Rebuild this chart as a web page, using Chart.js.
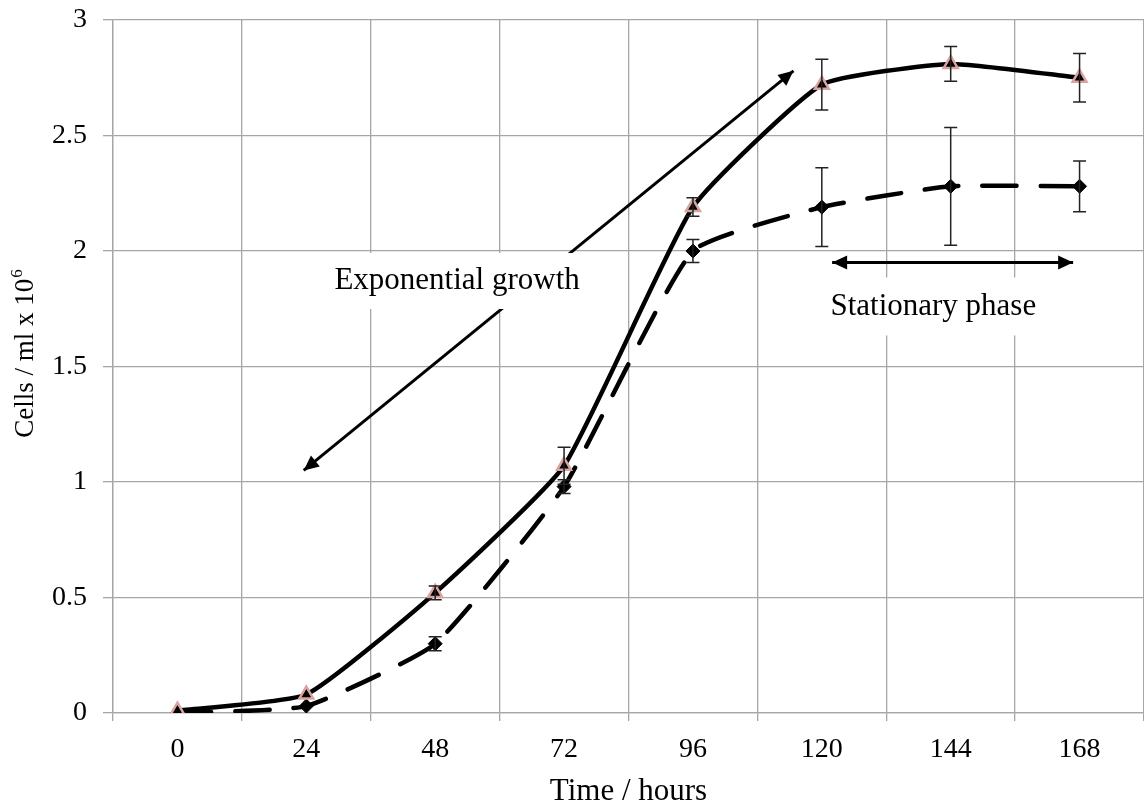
<!DOCTYPE html>
<html>
<head>
<meta charset="utf-8">
<script src="https://cdn.jsdelivr.net/npm/chart.js@4"></script>
<style>
  html, body { margin: 0; padding: 0; background: #fff; overflow: hidden; }
  canvas { display: block; }
</style>
</head>
<body>
<canvas id="growth-chart" width="1144" height="807"></canvas>
<script>

// sampling times (hours)
var hours = ["0", "24", "48", "72", "96", "120", "144", "168"]

// culture A - solid line, triangles
var cellsA = [0.01, 0.08, 0.52, 1.07, 2.19, 2.72, 2.81, 2.75]
var errA   = [0.00, 0.00, 0.03, 0.08, 0.04, 0.11, 0.075, 0.105]

// culture B - dashed line, diamonds
var cellsB = [0.00, 0.03, 0.30, 0.98, 2.00, 2.19, 2.28, 2.28]
var errB   = [0.00, 0.00, 0.03, 0.03, 0.05, 0.17, 0.255, 0.11]

var yTicks = [0, 0.5, 1, 1.5, 2, 2.5, 3]

// arrow ends given as [category index, cells value]
var growthArrow = [[0.98, 1.05], [4.78, 2.78]]
var stationaryArrow = [[5.08, 1.95], [6.95, 1.95]]

var serif = "'Liberation Serif', 'Times New Roman', serif"
var gridGrey = '#a6a6a6'

// vertical error bars with caps
var errorBars = {
  id: 'errorBars',
  afterDatasetsDraw: function(chart) {
    var ctx = chart.ctx
    var x = chart.scales.x, y = chart.scales.y
    chart.data.datasets.forEach(function(ds) {
      if (!ds.errors) return
      ctx.save()
      ctx.strokeStyle = '#222'
      ctx.lineWidth = 1.5
      ds.data.forEach(function(v, i) {
        var e = ds.errors[i]
        if (!e) return
        var px = x.getPixelForValue(i)
        var top = y.getPixelForValue(v + e)
        var bot = y.getPixelForValue(v - e)
        ctx.beginPath()
        ctx.moveTo(px, top); ctx.lineTo(px, bot)
        ctx.moveTo(px - 6.5, top); ctx.lineTo(px + 6.5, top)
        ctx.moveTo(px - 6.5, bot); ctx.lineTo(px + 6.5, bot)
        ctx.stroke()
      })
      ctx.restore()
    })
  }
}

function arrowHead(ctx, fx, fy, tx, ty) {
  var a = Math.atan2(ty - fy, tx - fx)
  var len = 15, half = 7
  ctx.beginPath()
  ctx.moveTo(tx, ty)
  ctx.lineTo(tx - len * Math.cos(a) + half * Math.sin(a), ty - len * Math.sin(a) - half * Math.cos(a))
  ctx.lineTo(tx - len * Math.cos(a) - half * Math.sin(a), ty - len * Math.sin(a) + half * Math.cos(a))
  ctx.closePath()
  ctx.fill()
}

function doubleArrow(chart, ends) {
  var ctx = chart.ctx
  var x = chart.scales.x, y = chart.scales.y
  var x1 = x.getPixelForValue(ends[0][0]), y1 = y.getPixelForValue(ends[0][1])
  var x2 = x.getPixelForValue(ends[1][0]), y2 = y.getPixelForValue(ends[1][1])
  ctx.save()
  ctx.strokeStyle = '#000'
  ctx.fillStyle = '#000'
  ctx.lineWidth = 3
  ctx.beginPath()
  ctx.moveTo(x1, y1); ctx.lineTo(x2, y2)
  ctx.stroke()
  arrowHead(ctx, x2, y2, x1, y1)
  arrowHead(ctx, x1, y1, x2, y2)
  ctx.restore()
}

function labelBox(chart, text, cx, cy, w, h, size) {
  var ctx = chart.ctx
  var px = chart.scales.x.getPixelForValue(cx)
  var py = chart.scales.y.getPixelForValue(cy)
  ctx.save()
  ctx.fillStyle = '#fff'
  ctx.fillRect(px - w / 2, py - h / 2, w, h)
  ctx.fillStyle = '#000'
  ctx.font = size + 'px ' + serif
  ctx.textAlign = 'center'
  ctx.textBaseline = 'middle'
  ctx.fillText(text, px, py)
  ctx.restore()
}

var annotations = {
  id: 'annotations',
  beforeDatasetsDraw: function(chart) {
    doubleArrow(chart, growthArrow)
    doubleArrow(chart, stationaryArrow)
    labelBox(chart, 'Exponential growth', 2.17, 1.87, 306, 56, 31)
    labelBox(chart, 'Stationary phase', 5.865, 1.76, 262, 58, 31)
  }
}

// rotated y title with a raised exponent
var yTitle = {
  id: 'yTitle',
  afterDraw: function(chart) {
    var ctx = chart.ctx
    var main = 'Cells / ml x 10', sup = '6'
    ctx.save()
    ctx.translate(24, 354)
    ctx.rotate(-Math.PI / 2)
    ctx.fillStyle = '#000'
    ctx.textBaseline = 'middle'
    ctx.font = '27px ' + serif
    var w1 = ctx.measureText(main).width
    ctx.font = '17px ' + serif
    var w2 = ctx.measureText(sup).width
    var start = -(w1 + w2) / 2
    ctx.font = '27px ' + serif
    ctx.textAlign = 'left'
    ctx.fillText(main, start, 2)
    ctx.font = '17px ' + serif
    ctx.fillText(sup, start + w1 + 1, -6)
    ctx.restore()
  }
}

new Chart(document.getElementById('growth-chart'), {
  type: 'line',
  data: {
    labels: hours,
    datasets: [{
        label: 'A',
        data: cellsA,
        errors: errA,
        borderColor: '#000',
        borderWidth: 4.5,
        tension: 0.15,
        pointStyle: 'triangle',
        pointRadius: 8,
        pointBackgroundColor: '#000',
        pointBorderColor: '#d9a3a0',
        pointBorderWidth: 2.5,
        fill: false
      }, {
        label: 'B',
        data: cellsB,
        errors: errB,
        borderColor: '#000',
        borderWidth: 4.5,
        borderDash: [34, 24],
        borderCapStyle: 'round',
        tension: 0.15,
        pointStyle: 'rectRot',
        pointRadius: 7,
        pointBackgroundColor: '#000',
        pointBorderColor: '#000',
        pointBorderWidth: 1,
        fill: false
      }
    ]
  },
  options: {
    responsive: false,
    animation: false,
    layout: { autoPadding: false, padding: { top: 20, right: 0, left: 0, bottom: 0 } },
    plugins: {
      legend: { display: false },
      tooltip: { enabled: false }
    },
    scales: {
      x: {
        type: 'category',
        offset: true,
        grid: { offset: true, color: gridGrey, lineWidth: 1.3, tickLength: 8 },
        border: { color: gridGrey, width: 1.3 },
        ticks: { color: '#000', font: { family: serif, size: 28 }, padding: 12, maxRotation: 0 },
        title: {
          display: true, text: 'Time / hours', color: '#000',
          font: { family: serif, size: 31, lineHeight: 1 }, padding: { top: 0, bottom: 0 }
        },
        afterFit: function(s) { s.height = 94; s.paddingLeft = 0; s.paddingRight = 0 }
      },
      y: {
        min: 0,
        max: 3,
        afterBuildTicks: function(s) { s.ticks = yTicks.map(function(v) { return { value: v } }) },
        grid: { color: gridGrey, lineWidth: 1.3, tickLength: 10 },
        border: { color: gridGrey, width: 1.3 },
        ticks: {
          color: '#000',
          font: { family: serif, size: 28 },
          padding: 16,
          callback: function(v) { return String(v) }
        },
        afterFit: function(s) { s.width = 113; s.paddingTop = 0; s.paddingBottom = 0 }
      }
    }
  },
  plugins: [annotations, errorBars, yTitle]
})
</script>
</body>
</html>
